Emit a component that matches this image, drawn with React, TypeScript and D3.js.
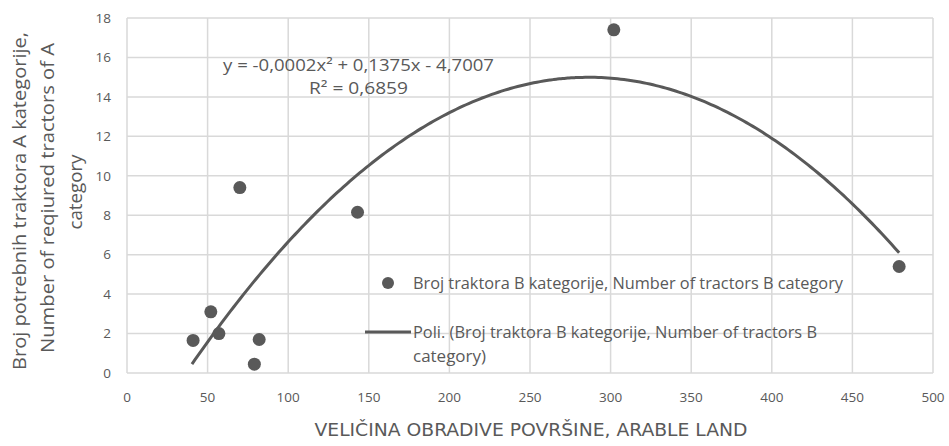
import React, { useEffect, useRef } from "react";
import * as d3 from "d3";

// arable land (x) vs tractors needed (y)
const areaValues = [41, 52, 57, 70, 79, 82, 143, 302, 479];
const tractorValues = [1.65, 3.1, 2.0, 9.4, 0.45, 1.7, 8.15, 17.4, 5.4];
const xTicks = [0, 50, 100, 150, 200, 250, 300, 350, 400, 450, 500];
const yTicks = [0, 2, 4, 6, 8, 10, 12, 14, 16, 18];
// polynomial trend coefficients (displayed a is rounded to -0,0002)
const trendA = -0.00024;
const trendB = 0.1375;
const trendC = -4.7007;

const App = () => {
  const svgRef = useRef<SVGSVGElement>(null);

  useEffect(() => {
    const svg = d3.select(svgRef.current);
    svg.selectAll("*").remove();
    draw();
  }, []);

  const draw = () => {
    const width = 949,
      height = 446;
    const font = "'Open Sans', sans-serif";
    const grey = "#595959";
    const left = 127,
      right = 933,
      top = 18,
      bottom = 373;

    const x = d3.scaleLinear().domain([0, 500]).range([left, right]);
    const y = d3.scaleLinear().domain([0, 18]).range([bottom, top]);

    const svg = d3
      .select(svgRef.current)
      .attr("width", width)
      .attr("height", height)
      .style("position", "absolute")
      .style("left", 0)
      .style("top", 0)
      .style("background", "#fff");

    // grid
    svg
      .append("g")
      .selectAll("line")
      .data(yTicks)
      .enter()
      .append("line")
      .attr("x1", left)
      .attr("x2", right)
      .attr("y1", (d) => y(d))
      .attr("y2", (d) => y(d))
      .attr("stroke", "#d9d9d9")
      .attr("stroke-width", 1.5);
    svg
      .append("g")
      .selectAll("line")
      .data(xTicks)
      .enter()
      .append("line")
      .attr("x1", (d) => x(d))
      .attr("x2", (d) => x(d))
      .attr("y1", top)
      .attr("y2", bottom)
      .attr("stroke", "#d9d9d9")
      .attr("stroke-width", 1.5);

    // tick labels
    svg
      .append("g")
      .selectAll("text")
      .data(yTicks)
      .enter()
      .append("text")
      .attr("x", left - 16)
      .attr("y", (d) => y(d))
      .attr("dy", "0.35em")
      .attr("text-anchor", "end")
      .attr("font-family", font)
      .attr("font-size", "13.5px")
      .attr("fill", grey)
      .text((d) => d);
    svg
      .append("g")
      .selectAll("text")
      .data(xTicks)
      .enter()
      .append("text")
      .attr("x", (d) => x(d))
      .attr("y", 397)
      .attr("dy", "0.35em")
      .attr("text-anchor", "middle")
      .attr("font-family", font)
      .attr("font-size", "13.5px")
      .attr("fill", grey)
      .text((d) => d);

    // trend line
    const trendPts = d3.range(40.3, 479.5, 2).concat([479]).map((v) => [v, trendA * v * v + trendB * v + trendC]);
    const line = d3
      .line<number[]>()
      .x((d) => x(d[0]))
      .y((d) => y(d[1]))
      .curve(d3.curveMonotoneX);
    svg
      .append("path")
      .attr("d", line(trendPts))
      .attr("fill", "none")
      .attr("stroke", grey)
      .attr("stroke-width", 3);

    // points
    svg
      .append("g")
      .selectAll("circle")
      .data(areaValues)
      .enter()
      .append("circle")
      .attr("cx", (d) => x(d))
      .attr("cy", (d, i) => y(tractorValues[i]))
      .attr("r", 6.5)
      .attr("fill", grey);

    const addText = (tx, ty, t, size, len, anchor = "start") =>
      svg
        .append("text")
        .attr("x", tx)
        .attr("y", ty)
        .attr("dy", "0.35em")
        .attr("text-anchor", anchor)
        .attr("font-family", font)
        .attr("font-size", size)
        .attr("textLength", len)
        .attr("lengthAdjust", "spacingAndGlyphs")
        .attr("fill", grey)
        .text(t);

    // equation
    addText(223, 65, "y = -0,0002x² + 0,1375x - 4,7007", "16.5px", 271);
    addText(309, 88, "R² = 0,6859", "16.5px", 99);

    // legend
    svg.append("circle").attr("cx", 388).attr("cy", 283).attr("r", 6).attr("fill", grey);
    addText(413, 283, "Broj traktora B kategorije, Number of tractors B category", "16px", 430);
    svg
      .append("line")
      .attr("x1", 365)
      .attr("x2", 411)
      .attr("y1", 332)
      .attr("y2", 332)
      .attr("stroke", grey)
      .attr("stroke-width", 3);
    addText(413, 332, "Poli. (Broj traktora B kategorije, Number of tractors B", "16px", 404);
    addText(413, 356, "category)", "16px", 73);

    // axis titles
    svg
      .append("text")
      .attr("x", 531)
      .attr("y", 430)
      .attr("dy", "0.35em")
      .attr("text-anchor", "middle")
      .attr("font-family", "'Liberation Sans Narrow', 'DejaVu Sans Condensed', sans-serif")
      .attr("font-size", "18px")
      .attr("textLength", 433)
      .attr("lengthAdjust", "spacingAndGlyphs")
      .attr("fill", grey)
      .text("VELIČINA OBRADIVE POVRŠINE, ARABLE LAND");

    const yTitle = svg
      .append("text")
      .attr("transform", "translate(0,0) rotate(-90)")
      .attr("text-anchor", "middle")
      .attr("font-family", font)
      .attr("font-size", "18px")
      .attr("fill", grey);
    const titleLines = ["Broj potrebnih traktora A kategorije,", "Number of reqiured tractors of A", "category"];
    const titleCenters = [201, 198, 192];
    const titleLens = [338, 310, 75];
    titleLines.forEach((t, i) => {
      yTitle
        .append("tspan")
        .attr("x", -titleCenters[i])
        .attr("y", 26 + i * 28)
        .attr("textLength", titleLens[i])
        .attr("lengthAdjust", "spacingAndGlyphs")
        .text(t);
    });
  };

  return (
    <div>
      <svg ref={svgRef}></svg>
    </div>
  );
};

export default App;
